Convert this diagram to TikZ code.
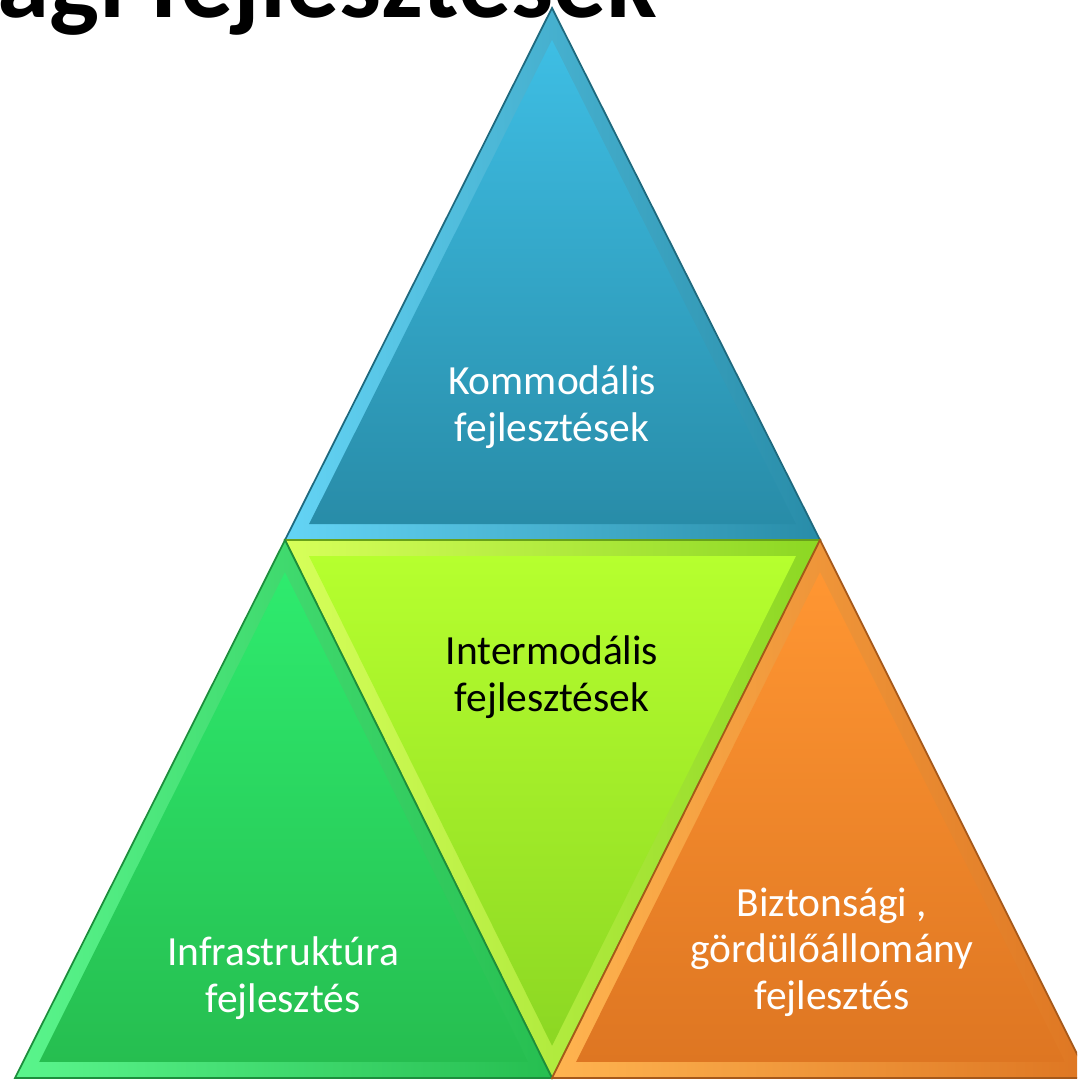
\documentclass[tikz,border=0pt]{standalone}
\usepackage{fontspec}
\setmainfont{Carlito}
\usetikzlibrary{calc,positioning}
\definecolor{skytop}{RGB}{62,190,228}
\definecolor{skybot}{RGB}{40,140,168}
\definecolor{skyedge}{RGB}{100,212,245}
\definecolor{leaftop}{RGB}{46,235,110}
\definecolor{leafbot}{RGB}{38,190,80}
\definecolor{leafedge}{RGB}{90,245,140}
\definecolor{limetop}{RGB}{182,255,46}
\definecolor{limebot}{RGB}{140,215,35}
\definecolor{limeedge}{RGB}{215,255,90}
\definecolor{ambertop}{RGB}{255,150,50}
\definecolor{amberbot}{RGB}{222,118,34}
\definecolor{amberedge}{RGB}{255,180,80}
% bevelled triangle: corners #1 #2 #3, edge colour #4, top colour #5, bottom colour #6
\newcommand{\bevtri}[6]{%
  \coordinate (ctr) at ($0.3333*(#1)+0.3333*(#2)+0.3334*(#3)$);
  \shade[left color=#4, right color=#6, draw=#6!75!black, line width=0.5pt] (#1) -- (#2) -- (#3) -- cycle;
  \shade[top color=#5, bottom color=#6] ($(ctr)!0.91!(#1)$) -- ($(ctr)!0.91!(#2)$) -- ($(ctr)!0.91!(#3)$) -- cycle;
}

\begin{document}
\begin{tikzpicture}[every node/.style={align=center, font=\fontsize{11.8}{13.2}\selectfont}]
	\useasboundingbox (0,0) rectangle (10.77,10.80);
	\clip (0,0) rectangle (10.77,10.80);
	\node[anchor=base west, font=\fontsize{30}{30}\bfseries\selectfont] (title) at (-0.15,10.62) {ági fejlesztések};
	\coordinate (apex) at (5.52,10.72);
	\coordinate (midl) at (2.85,5.40);
	\coordinate (midr) at (8.20,5.40);
	\coordinate (botl) at (0.15,0.02);
	\coordinate (botm) at (5.52,0.02);
	\coordinate (botr) at (10.89,0.02);
	\bevtri{apex}{midr}{midl}{skyedge}{skytop}{skybot}
	\bevtri{midl}{midr}{botm}{limeedge}{limetop}{limebot}
	\bevtri{midl}{botm}{botl}{leafedge}{leaftop}{leafbot}
	\bevtri{midr}{botr}{botm}{amberedge}{ambertop}{amberbot}
	\node[white] (kommod) at (5.52,6.73) {Kommodális\\fejlesztések};
	\node[black] (intermod) at (5.52,4.03) {Intermodális\\fejlesztések};
	\node[white] (infra) at (2.83,1.02) {Infrastruktúra\\fejlesztés};
	\node[white] (bizt) at (8.32,1.28) {Biztonsági ,\\gördülőállomány\\fejlesztés};
\end{tikzpicture}
\end{document}
